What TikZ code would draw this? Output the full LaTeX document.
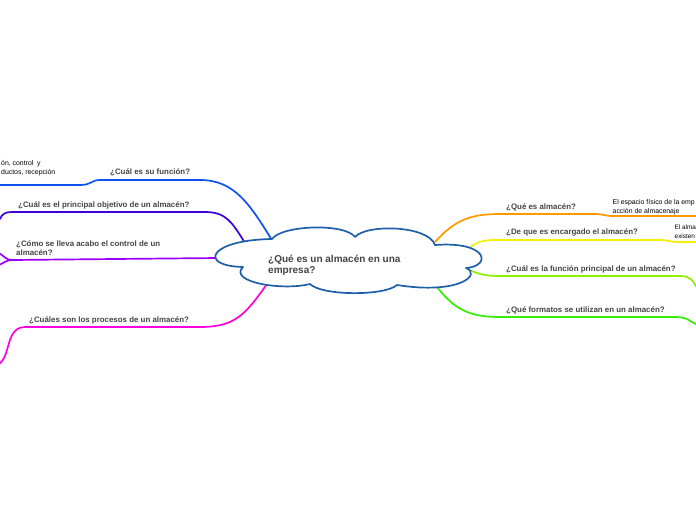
\documentclass[tikz,border=0pt]{standalone}
\usepackage{fontspec}
\setmainfont{Liberation Sans}
\definecolor{cloudc}{HTML}{1F5FAA}
\definecolor{txt}{HTML}{444444}
\definecolor{cA}{HTML}{0F52F0}
\definecolor{cB}{HTML}{3A00E0}
\definecolor{cC}{HTML}{9A00FF}
\definecolor{cD}{HTML}{FF00DD}
\definecolor{cE}{HTML}{FF9900}
\definecolor{cF}{HTML}{F2F200}
\definecolor{cG}{HTML}{8CF000}
\definecolor{cH}{HTML}{33F000}
\tikzset{
  branch/.style={line width=1.7pt, line cap=round, line join=round},
  qlabel/.style={anchor=west, inner sep=0pt, text=txt, font=\fontsize{7.9}{9}\selectfont\bfseries, align=left},
  leaf/.style={anchor=west, inner sep=0pt, text=black, font=\fontsize{6.9}{9}\selectfont, align=left},
  cloudline/.style={draw=cloudc, fill=white, line width=1.7pt, line join=round}
}
\begin{document}
\begin{tikzpicture}[x=1pt,y=-1pt]
\useasboundingbox (0,0) rectangle (696,520);
\clip (0,0) rectangle (696,520);

% attach coordinates on the cloud
\coordinate (kA) at (272,240);
\coordinate (kB) at (245,243);
\coordinate (kC) at (218,258);
\coordinate (kD) at (267,284);
\coordinate (kE) at (435,242);
\coordinate (kF) at (466,251);
\coordinate (kG) at (467,269);
\coordinate (kH) at (437,287);
% free ends
\coordinate (eA) at (-2,185);
\coordinate (eB) at (0,219);
\coordinate (eC1) at (-1,253);
\coordinate (eC2) at (-1,265);
\coordinate (eD) at (-1,364);
\coordinate (eE) at (698,216);
\coordinate (eF) at (698,242);
\coordinate (eG) at (698,290);
\coordinate (eH) at (698,325);

% branches (left)
\draw[branch, cA] (kA) .. controls (250,205) and (235,180) .. (200,180) -- (100,180)
   .. controls (91,180) and (92,185) .. (80,185) -- (eA);
\draw[branch, cB] (kB) .. controls (232,222) and (226,212) .. (205,212) -- (12,212)
   .. controls (5,212) and (2,214) .. (eB);
\draw[branch, cC] (kC) -- (12,260) .. controls (6,260) and (4,256) .. (eC1);
\draw[branch, cC] (12,260) .. controls (6,260) and (4,263) .. (eC2);
\draw[branch, cD] (kD) .. controls (245,315) and (235,327) .. (200,327) -- (25,327)
   .. controls (12,327) and (10,340) .. (7,350) .. controls (5,357) and (3,361) .. (eD);

% branches (right)
\draw[branch, cE] (kE) .. controls (455,220) and (470,214) .. (500,214) -- (595,214)
   .. controls (603,214) and (605,216) .. (613,216) -- (eE);
\draw[branch, cF] (kF) .. controls (475,243) and (480,240) .. (495,240) -- (662,240)
   .. controls (668,240) and (670,242) .. (678,242) -- (eF);
\draw[branch, cG] (kG) .. controls (478,274) and (485,276) .. (500,276) -- (680,276)
   .. controls (690,276) and (693,280) .. (eG);
\draw[branch, cH] (kH) .. controls (455,310) and (470,317) .. (500,317) -- (676,317)
   .. controls (688,317) and (690,322) .. (eH);

% cloud
\draw[cloudline] (272,239)
  .. controls (282,225) and (345,223) .. (355,237)
  .. controls (366,224) and (428,225) .. (435,245)
  .. controls (488,241) and (492,266) .. (466,268)
  .. controls (482,274) and (460,295) .. (397,285)
  .. controls (385,296) and (322,296) .. (310,284)
  .. controls (282,291) and (228,282) .. (243,267)
  .. controls (198,266) and (208,240) .. cycle;
\node[anchor=west, inner sep=0pt, text=txt, font=\fontsize{10}{11}\selectfont\bfseries, align=left]
  (center) at (268,265) {¿Qué es un almacén en una\\empresa?};

% question labels
\node[qlabel] (qA) at (110,172) {¿Cuál es su función?};
\node[qlabel] (qB) at (18,205) {¿Cuál es el principal objetivo de un almacén?};
\node[qlabel] (qC) at (16,248.5) {¿Cómo se lleva acabo el control de un\\almacén?};
\node[qlabel] (qD) at (29,320) {¿Cuáles son los procesos de un almacén?};
\node[qlabel] (qE) at (506,207) {¿Qué es almacén?};
\node[qlabel] (qF) at (506,232) {¿De que es encargado el almacén?};
\node[qlabel] (qG) at (506,269) {¿Cuál es la función principal de un almacén?};
\node[qlabel] (qH) at (506,310) {¿Qué formatos se utilizan en un almacén?};

% leaf texts (as far as the page shows them)
\node[leaf] (lA) at (1,168) {ón, control\ \ y\\ductos, recepción};
\node[leaf] (lE) at (612.5,207) {El espacio físico de la emp\\acción de almacenaje};
\node[leaf, font=\fontsize{6.4}{9}\selectfont] (lF) at (674.5,232) {El alma\\existen};
\end{tikzpicture}
\end{document}
